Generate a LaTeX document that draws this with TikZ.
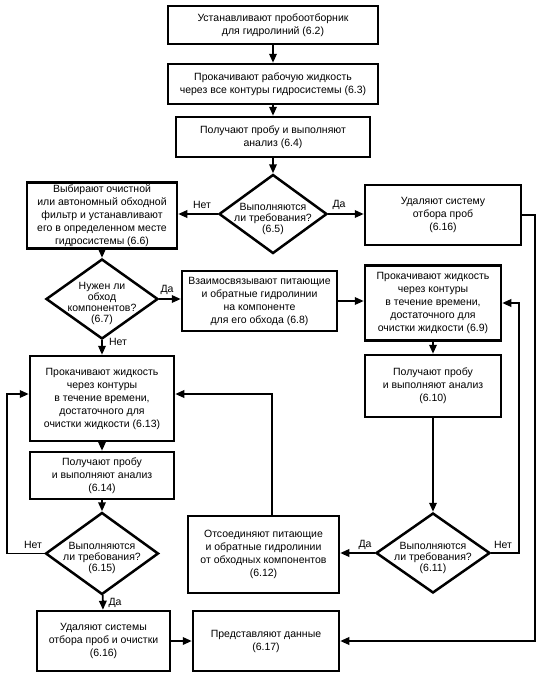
\documentclass[tikz,border=0pt]{standalone}
\usepackage{fontspec}
\setmainfont{Liberation Sans}
\usetikzlibrary{shapes.geometric,arrows.meta}
\newcommand{\dtx}[1]{\makebox[0pt]{\smash{\raisebox{-8pt}{\smash{\begin{tabular}{@{}c@{}}#1\end{tabular}}}}}}
\begin{document}
\begin{tikzpicture}[x=1pt,y=-1pt,
  every node/.style={font=\fontsize{10.5}{13}\selectfont},
  box/.style={draw,line width=2.5pt,rectangle,align=center,inner sep=2pt},
  dia/.style={draw,line width=2.5pt,diamond,inner sep=0pt,font=\fontsize{10.5}{11}\selectfont},
  arr/.style={line width=1.9pt,-{Triangle[length=9pt,width=7.5pt]}},
  lbl/.style={inner sep=0pt}]
\useasboundingbox (0,0) rectangle (542,675);
% main column
\node[box,minimum width=210pt,minimum height=38pt] (b62) at (273,25) {Устанавливают пробоотборник\\для гидролиний (6.2)};
\node[box,minimum width=210pt,minimum height=40pt] (b63) at (273,84) {Прокачивают рабочую жидкость\\через все контуры гидросистемы (6.3)};
\node[box,minimum width=194pt,minimum height=40pt] (b64) at (273,137) {Получают пробу и выполняют\\анализ (6.4)};
\node[dia,minimum width=108pt,minimum height=79pt] (d65) at (273,214) {\dtx{Выполняются\\ли требования?\\(6.5)}};
\node[box,minimum width=150pt,minimum height=65pt] (b66) at (102,215.5) {Выбирают очистной\\или автономный обходной\\фильтр и устанавливают\\его в определенном месте\\гидросистемы (6.6)};
\node[box,minimum width=156pt,minimum height=60pt] (b616a) at (443,215) {Удаляют систему\\отбора проб\\(6.16)};
\node[dia,minimum width=112pt,minimum height=80pt] (d67) at (102,299) {\dtx{Нужен ли\\обход\\компонентов?\\(6.7)}};
\node[box,minimum width=155pt,minimum height=60pt] (b68) at (259.5,301) {Взаимосвязывают питающие\\и обратные гидролинии\\на компоненте\\для его обхода (6.8)};
\node[box,minimum width=136pt,minimum height=75pt] (b69) at (433,303) {Прокачивают жидкость\\через контуры\\в течение времени,\\достаточного для\\очистки жидкости (6.9)};
\node[box,minimum width=144pt,minimum height=85pt] (b613) at (102,398.5) {Прокачивают жидкость\\через контуры\\в течение времени,\\достаточного для\\очистки жидкости (6.13)};
\node[box,minimum width=144pt,minimum height=47pt] (b614) at (102,475.5) {Получают пробу\\и выполняют анализ\\(6.14)};
\node[box,minimum width=136pt,minimum height=62pt] (b610) at (433,386) {Получают пробу\\и выполняют анализ\\(6.10)};
\node[dia,minimum width=113pt,minimum height=82pt] (d615) at (102,553.5) {\dtx{Выполняются\\ли требования?\\(6.15)}};
\node[box,minimum width=151pt,minimum height=77pt] (b612) at (263.5,554.5) {Отсоединяют питающие\\и обратные гидролинии\\от обходных компонентов\\(6.12)};
\node[dia,minimum width=114pt,minimum height=80pt] (d611) at (433,553) {\dtx{Выполняются\\ли требования?\\(6.11)}};
\node[box,minimum width=133pt,minimum height=60pt] (b616b) at (103.5,641) {Удаляют системы\\отбора проб и очистки\\(6.16)};
\node[box,minimum width=146pt,minimum height=60pt] (b617) at (266,641) {Представляют данные\\(6.17)};
% labels
\node[lbl] (l1) at (202,205) {Нет};
\node[lbl] (l2) at (339,205) {Да};
\node[lbl] (l3) at (167,290) {Да};
\node[lbl] (l4) at (118,342) {Нет};
\node[lbl] (l5) at (33,545) {Нет};
\node[lbl] (l6) at (115,603) {Да};
\node[lbl] (l7) at (365,545) {Да};
\node[lbl] (l8) at (503,545) {Нет};
% coordinates
\coordinate (t1) at (272,394);
% connectors
\draw[arr] (b62) -- (b63);
\draw[arr] (b63) -- (b64);
\draw[arr] (b64) -- (d65);
\draw[arr] (d65.west) -- (d65.west -| b66.east);
\draw[arr] (d65.east) -- (d65.east -| b616a.west);
\draw[arr] (b616a.east) -- ++(13,0) |- (b617.east);
\draw[arr] (b66) -- (d67);
\draw[arr] (d67.east) -- (d67.east -| b68.west);
\draw[arr] (b68.east) -- (b68.east -| b69.west);
\draw[arr] (b69) -- (b610);
\draw[arr] (b610) -- (d611);
\draw[arr] (d611.west) -- (d611.west -| b612.east);
\draw[arr] (d611.east) -- ++(28,0) |- (b69.east);
\draw[arr] (b612.north -| t1) -- (t1) -- (t1 -| b613.east);
\draw[arr] (d67) -- (b613);
\draw[arr] (b613) -- (b614);
\draw[arr] (b614) -- (d615);
\draw[arr] (d615.west) -- ++(-37,0) |- (t1 -| b613.west);
\draw[arr] (d615) -- (b616b);
\draw[arr] (b616b.east) -- (b616b.east -| b617.west);
\end{tikzpicture}
\end{document}
